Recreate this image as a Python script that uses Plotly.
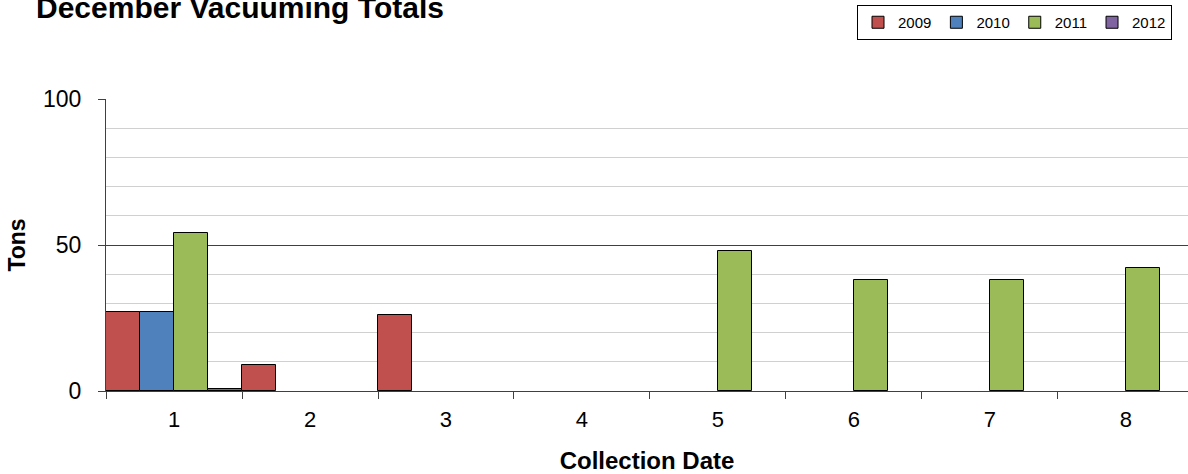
import plotly.graph_objects as go

# collection dates (categories) and tons per December season
dates = ["1", "2", "3", "4", "5", "6", "7", "8"]
tons_2009 = [27, 9, 26, None, None, None, None, None]
tons_2010 = [27, None, None, None, None, None, None, None]
tons_2011 = [54, None, None, None, 48, 38, 38, 42]
tons_2012 = [0.8, None, None, None, None, None, None, None]

series = [
    ("2009", tons_2009, "#C0504D"),
    ("2010", tons_2010, "#4F81BD"),
    ("2011", tons_2011, "#9BBB59"),
    ("2012", tons_2012, "#8064A2"),
]

FONT = "Liberation Sans, Arial, sans-serif"

fig = go.Figure()
for name, vals, color in series:
    fig.add_trace(go.Bar(
        x=dates,
        y=vals,
        name=name,
        marker=dict(color=color, line=dict(color="#000000", width=1)),
    ))

fig.update_layout(
    width=1188,
    height=474,
    margin=dict(l=106, r=0, t=99, b=83),
    paper_bgcolor="white",
    plot_bgcolor="white",
    barmode="group",
    bargap=0,
    bargroupgap=0,
    font=dict(family=FONT, color="black"),
    title=dict(
        text="<b>December Vacuuming Totals</b>",
        font=dict(size=30, family=FONT, color="black"),
        x=36 / 1188,
        xanchor="left",
        xref="container",
        yref="container",
        y=0.984,
        yanchor="middle",
    ),
    legend=dict(
        orientation="h",
        x=(857 - 106) / 1082,
        xanchor="left",
        y=(391 - 5) / 292,
        yanchor="top",
        bordercolor="black",
        borderwidth=1,
        font=dict(size=15, family=FONT, color="black"),
        itemwidth=30,
        traceorder="normal",
    ),
)

fig.update_xaxes(
    type="category",
    categoryorder="array",
    categoryarray=dates,
    range=[-0.5, 7.456],
    tickson="boundaries",
    ticks="outside",
    ticklen=7,
    tickcolor="#404040",
    showline=True,
    linecolor="#404040",
    linewidth=1,
    showgrid=False,
    tickfont=dict(size=22, family=FONT, color="black"),
    ticklabelstandoff=9,
    title=dict(text="<b>Collection Date</b>", font=dict(size=24, family=FONT, color="black"), standoff=24),
    automargin=False,
)

fig.update_yaxes(
    range=[0, 100],
    tickvals=[0, 50, 100],
    ticks="outside",
    ticklen=7,
    tickcolor="#404040",
    showline=True,
    linecolor="#404040",
    linewidth=1,
    showgrid=True,
    gridcolor="#404040",
    gridwidth=1,
    zeroline=False,
    minor=dict(dtick=10, showgrid=True, gridcolor="#D0D0D0", gridwidth=1, ticks=""),
    tickfont=dict(size=23, family=FONT, color="black"),
    ticklabelstandoff=12,
    title=dict(text="<b>Tons</b>", font=dict(size=23, family=FONT, color="black"), standoff=10),
    automargin=True,
)

# the page body has a default 8px margin; drop it so the chart sits at the window edge
fig.write_html(
    "out.html",
    config={"displayModeBar": False},
    post_script="document.body.style.margin = '0';",
)
